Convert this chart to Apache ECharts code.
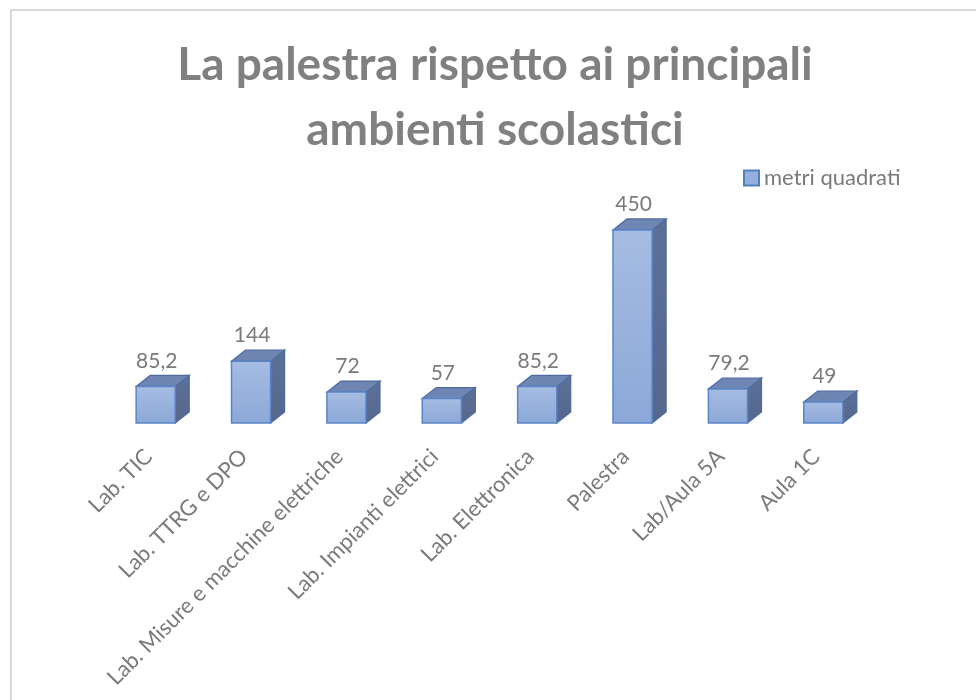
<!DOCTYPE html>
<html>
<head>
<meta charset="utf-8">
<script src="https://cdn.jsdelivr.net/npm/echarts@6/dist/echarts.min.js"></script>
<style>
  html, body { margin: 0; padding: 0; background: #fff; }
  #chart { width: 976px; height: 700px; }
</style>
</head>
<body>
<div id="chart"></div>
<script>
const categories = ['Lab. TIC', 'Lab. TTRG e DPO', 'Lab. Misure e macchine elettriche',
  'Lab. Impianti elettrici', 'Lab. Elettronica', 'Palestra', 'Lab/Aula 5A', 'Aula 1C'];
const metriQuadrati = [85.2, 144, 72, 57, 85.2, 450, 79.2, 49];
const seriesName = 'metri quadrati';

const FONT = 'Lato, "Open Sans", sans-serif';
const DX = 14, DY = 11;

function fmt(v) { return String(v).replace('.', ','); }

function renderBar(params, api) {
  const base = api.coord([api.value(0), 0]);
  const top = api.coord([api.value(0), api.value(1)]);
  const bw = api.size([1, 0])[0] * 0.41;
  const x = base[0] - bw / 2;
  const y0 = base[1], y1 = top[1];
  return {
    type: 'group',
    children: [
      {
        type: 'polygon',
        shape: { points: [[x + bw, y1], [x + bw + DX, y1 - DY], [x + bw + DX, y0 - DY], [x + bw, y0]] },
        style: { fill: new echarts.graphic.LinearGradient(0, 0, 0, 1, [
          { offset: 0, color: '#5d7099' }, { offset: 1, color: '#55678c' }]),
          stroke: '#4f6b9e', lineWidth: 1.2 }
      },
      {
        type: 'polygon',
        shape: { points: [[x, y1], [x + DX, y1 - DY], [x + bw + DX, y1 - DY], [x + bw, y1]] },
        style: { fill: '#6f86b5', stroke: '#4f6b9e', lineWidth: 1.2 }
      },
      {
        type: 'rect',
        shape: { x: x, y: y1, width: bw, height: y0 - y1 },
        style: { fill: new echarts.graphic.LinearGradient(0, 0, 0, 1, [
          { offset: 0, color: '#a6bce2' }, { offset: 1, color: '#8ca8d8' }]),
          stroke: '#5b85c8', lineWidth: 1.5 }
      },
      {
        type: 'text',
        style: { x: base[0] + 1, y: y1 - DY - 4, text: fmt(api.value(1)),
          align: 'center', verticalAlign: 'bottom', fill: '#7a7a7a',
          font: '21px ' + FONT }
      }
    ]
  };
}

const chart = echarts.init(document.getElementById('chart'));
chart.setOption({
  animation: false,
  title: {
    text: 'La palestra rispetto ai principali\nambienti scolastici',
    left: 490, top: 28, textAlign: 'center',
    textStyle: { fontFamily: FONT, fontWeight: 'bold', fontSize: 46, lineHeight: 65, color: '#808080' }
  },
  legend: {
    data: [seriesName], left: 738, top: 162, itemWidth: 15, itemHeight: 15, itemGap: 6,
    icon: 'rect',
    textStyle: { fontFamily: FONT, fontSize: 22, color: '#7a7a7a' }
  },
  graphic: [{
    type: 'rect', shape: { x: 11, y: 10, width: 1100, height: 1100 },
    style: { fill: 'none', stroke: '#d9d9d9', lineWidth: 2 }, silent: true
  }],
  grid: { left: 108, right: 105, top: 208.5, bottom: 277 },
  xAxis: {
    type: 'category', data: categories,
    axisLine: { show: false }, axisTick: { show: false },
    axisLabel: { rotate: 45, margin: 23, padding: [0, 10, 0, 0], interval: 0,
      fontFamily: FONT, fontSize: 22, color: '#7a7a7a' }
  },
  yAxis: { type: 'value', min: 0, max: 500, show: false, splitLine: { show: false } },
  series: [{
    type: 'custom', name: seriesName, renderItem: renderBar,
    itemStyle: { color: '#95afdc', borderColor: '#4f81bd', borderWidth: 1.5 },
    data: metriQuadrati.map((v, i) => [i, v]),
    encode: { x: 0, y: 1 }
  }]
});
</script>
</body>
</html>
